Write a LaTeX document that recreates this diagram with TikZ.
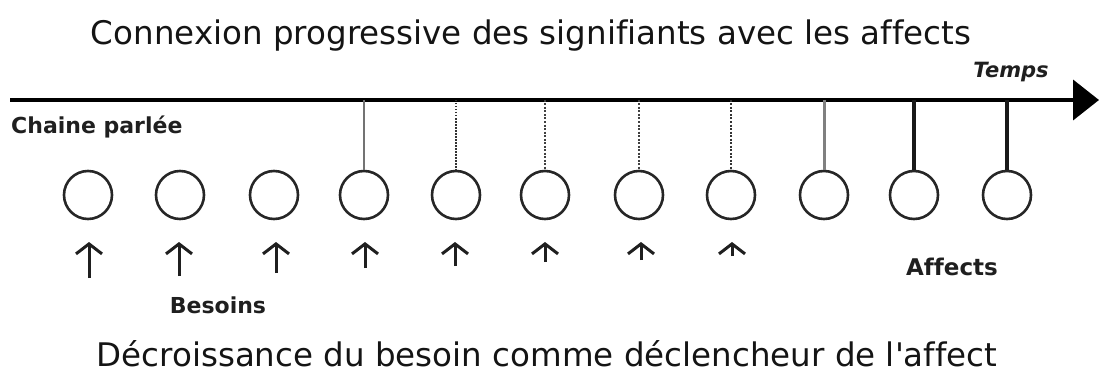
\documentclass[tikz,border=0pt]{standalone}
\usepackage{fontspec}
\setmainfont{DejaVu Sans}[Ligatures=NoCommon]
\usetikzlibrary{arrows.meta}
\begin{document}
\begin{tikzpicture}[x=1pt,y=-1pt,
  title/.style={font=\fontsize{32.5}{38}\selectfont, inner sep=0pt, text=black!92},
  lbl/.style={font=\bfseries\fontsize{22}{26}\selectfont, inner sep=0pt, text=black!88},
  ring/.style={circle, draw=black!85, line width=2.6pt, minimum size=48pt, inner sep=0pt},
  axis/.style={line width=4pt, -{Triangle[length=26pt,width=40pt]}},
  need/.style={line width=3pt, black!88, -{Straight Barb[length=10pt,width=26pt]}},
  stemA/.style={line width=1.4pt, black!55},
  stemB/.style={line width=1.8pt, black!80, dash pattern=on 1.5pt off 1.5pt},
  stemC/.style={line width=2.4pt, black!75, dash pattern=on 2pt off 1.5pt},
  stemD/.style={line width=2.8pt, black!75, dash pattern=on 2pt off 1.5pt},
  stemE/.style={line width=1.8pt, black!80, dash pattern=on 2pt off 1.5pt},
  stemF/.style={line width=3pt, black!50},
  stemG/.style={line width=3.2pt, black!90},
  stemH/.style={line width=3.6pt, black!90}
]
\useasboundingbox (0,0) rectangle (1099,377);

\node[title] (t1) at (531,36) {Connexion progressive des signifiants avec les affects};
\node[title] (t2) at (547,354) {Décroissance du besoin comme déclencheur de l\textquotesingle affect};

\coordinate (a0) at (10,100);
\coordinate (a1) at (1099,100);
\draw[axis] (a0) -- (a1);

\node[lbl, font=\bfseries\itshape\fontsize{21}{24}\selectfont] (temps) at (1011,72) {Temps};
\node[lbl, anchor=west] (chaine) at (11,127) {Chaine parlée};
\node[lbl] (besoins) at (218,305) {Besoins};
\node[lbl, font=\bfseries\fontsize{23}{26}\selectfont] (affects) at (952,267) {Affects};

\foreach \i/\x in {1/88,2/180,3/274,4/364,5/456,6/545,7/639,8/731,9/824,10/914,11/1007}{
  \node[ring] (c\i) at (\x,195) {};
  \coordinate (s\i) at (\x,100);
}

\draw[stemA] (s4) -- (c4.north);
\draw[stemB] (s5) -- (c5.north);
\draw[stemC] (s6) -- (c6.north);
\draw[stemD] (s7) -- (c7.north);
\draw[stemE] (s8) -- (c8.north);
\draw[stemF] (s9) -- (c9.north);
\draw[stemG] (s10) -- (c10.north);
\draw[stemH] (s11) -- (c11.north);

\foreach \i/\x/\b in {1/89/278,2/179/276,3/276/273,4/365/268,5/455/266,6/545/262,7/641/260,8/732/256}{
  \coordinate (nb\i) at (\x,\b);
  \coordinate (nt\i) at (\x,242);
  \draw[need] (nb\i) -- (nt\i);
}
\end{tikzpicture}
\end{document}
